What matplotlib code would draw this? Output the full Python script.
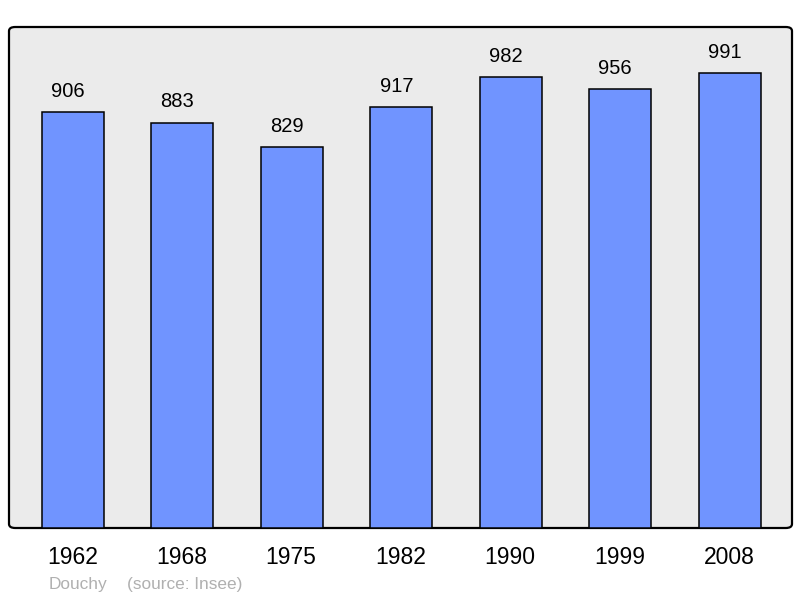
import matplotlib.pyplot as plt
from matplotlib.patches import FancyBboxPatch

years = ['1962', '1968', '1975', '1982', '1990', '1999', '2008']
population = [906, 883, 829, 917, 982, 956, 991]
commune = 'Douchy'
source = '(source: Insee)'

plt.rcParams['font.family'] = ['Liberation Sans', 'DejaVu Sans']

fig = plt.figure(figsize=(8, 5.98), dpi=100)
ax = fig.add_axes([9 / 800, 70 / 598, 783 / 800, 501 / 598])
ax.set_facecolor('none')

# rounded frame behind the bars
frame = FancyBboxPatch((0, 0), 1, 1, boxstyle='round,pad=0,rounding_size=0.008',
                       transform=ax.transAxes, facecolor='#ebebeb',
                       edgecolor='black', linewidth=1.6, zorder=0, clip_on=False)
ax.add_patch(frame)

x = range(len(years))
ax.bar(x, population, width=0.567, color='#7094ff', edgecolor='black',
       linewidth=1.1, zorder=2)

for i, v in enumerate(population):
    ax.annotate(str(v), (i, v), xytext=(-3.6, 15.0), textcoords='offset points',
                ha='center', va='center', fontsize=14.5)
    ax.annotate(years[i], (i, 0), xycoords=('data', 'axes fraction'),
                xytext=(-0.5, -21.6), textcoords='offset points',
                ha='center', va='center', fontsize=16.5)

ax.set_xlim(-0.585, 6.571)
ax.set_ylim(0, 1091)
ax.set_xticks([])
ax.set_yticks([])
for s in ax.spines.values():
    s.set_visible(False)

fig.text(49 / 800, 1 - 585 / 598, commune, color='#b0b0b0', fontsize=12.4,
         va='center', ha='left')
fig.text(127 / 800, 1 - 585 / 598, source, color='#b0b0b0', fontsize=12.4,
         va='center', ha='left')

fig.savefig('out.png', dpi=100, facecolor='white')
